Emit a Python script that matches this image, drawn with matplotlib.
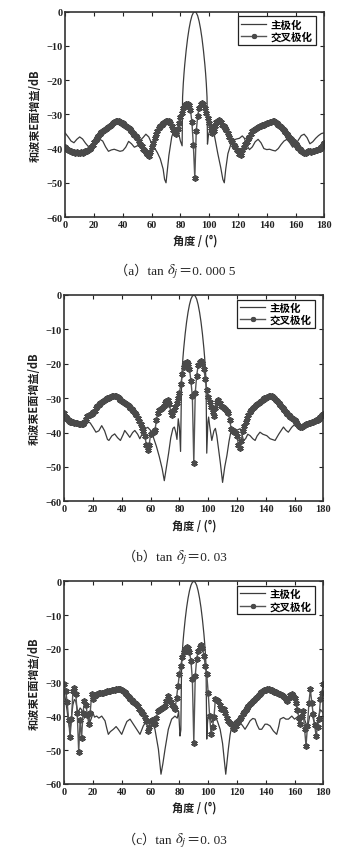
import matplotlib
matplotlib.use("Agg")
import matplotlib.pyplot as plt
import numpy as np
from matplotlib.font_manager import FontProperties
from matplotlib.offsetbox import TextArea, HPacker, AnchoredOffsetbox

plt.rcParams['font.family'] = ['Liberation Serif', 'Noto Sans CJK SC', 'DejaVu Sans']
plt.rcParams['mathtext.fontset'] = 'stix'
plt.rcParams['axes.unicode_minus'] = True

# ---------------- data ----------------
angles_cross = list(range(0, 181))  # 1 degree steps

cross_a = [
    -39.6, -40.2, -40.5, -40.7, -40.6, -40.9, -41.0, -41.2, -41.0, -41.3,
    -41.2, -41.0, -41.2, -40.9, -40.7, -40.8, -40.4, -40.2, -39.6, -39.0,
    -38.2, -37.5, -36.8, -36.3, -35.8, -35.3, -35.0, -34.6, -34.2, -33.9,
    -33.6, -33.4, -33.0, -32.6, -32.2, -32.0, -31.9, -32.0, -32.1, -32.4,
    -32.6, -33.0, -33.3, -33.7, -34.0, -34.4, -34.9, -35.4, -35.9, -36.4,
    -37.0, -37.8, -38.6, -39.3, -40.0, -40.5, -41.0, -41.6, -42.3, -41.0,
    -39.5, -38.3, -37.0, -35.8, -34.8, -34.0, -33.5, -33.0, -32.6, -32.3,
    -32.0, -31.8, -31.8, -32.5, -33.5, -34.5, -35.3, -35.6, -34.3, -32.5,
    -30.8, -29.5, -28.2, -27.5, -27.0, -26.9, -27.3, -28.8, -32.3, -39.0,
    -48.6,
    -35.0, -30.5, -28.0, -27.0, -26.7, -27.0, -28.0, -29.5, -31.0, -32.5,
    -34.0, -35.5, -35.0, -33.3, -32.3, -31.8, -31.7, -32.3, -33.0, -33.5,
    -34.0, -34.5, -35.5, -36.5, -37.5, -38.2, -39.0, -39.5, -40.3, -40.8,
    -41.5, -41.8, -40.5, -39.5, -38.8, -38.2, -37.3, -36.5, -35.8, -35.0,
    -34.6, -34.2, -33.9, -33.7, -33.5, -33.4, -33.2, -33.0, -32.8, -32.6,
    -32.4, -32.2, -32.1, -32.0, -31.9, -32.2, -32.6, -33.0, -33.4, -33.8,
    -34.2, -34.7, -35.2, -35.8, -36.3, -36.8, -37.3, -37.8, -38.3, -38.8,
    -39.3, -39.8, -40.2, -40.6, -41.0, -41.2, -41.3, -41.0, -40.7, -40.8,
    -41.0, -40.7, -40.6, -40.5, -40.3, -40.2, -40.0, -39.6, -39.0, -38.3,
]

cross_b = [
    -34.3, -35.5, -36.2, -36.5, -36.8, -37.0, -37.0, -37.2, -37.3, -37.3,
    -37.4, -37.5, -37.6, -37.5, -37.0, -36.0, -35.3, -35.0, -34.8, -34.5,
    -34.1, -33.6, -33.0, -32.4, -31.9, -31.5, -31.2, -30.8, -30.5, -30.2,
    -30.0, -29.9, -29.7, -29.5, -29.4, -29.4, -29.5, -29.8, -30.0, -30.4,
    -30.8, -31.0, -31.3, -31.7, -32.0, -32.4, -32.8, -33.2, -33.6, -34.3,
    -35.0, -35.8, -36.7, -37.6, -38.6, -39.5, -41.0, -43.5, -45.2, -43.5,
    -40.5, -40.0, -39.8, -39.4, -36.5, -34.2, -33.5, -33.3, -33.0, -32.2,
    -31.3, -30.7, -30.6, -31.8, -34.0, -35.0, -33.5, -32.5, -31.5, -30.0,
    -28.5, -26.0, -23.0, -21.0, -19.8, -19.5, -20.0, -21.5, -25.0, -29.5,
    -49.0,
    -28.5, -23.5, -20.5, -19.5, -19.3, -19.8, -21.5, -24.5, -27.5, -29.8,
    -31.2, -32.5, -34.0, -35.3, -33.0, -31.2, -30.6, -31.5, -32.3, -32.7,
    -33.0, -33.3, -33.6, -34.3, -36.5, -39.0, -39.5, -39.8, -40.0, -41.0,
    -43.5, -44.5, -42.5, -39.6, -38.0, -36.8, -35.7, -34.8, -34.0, -33.5,
    -33.0, -32.5, -32.1, -31.7, -31.3, -31.0, -30.7, -30.4, -30.1, -29.9,
    -29.7, -29.5, -29.4, -29.5, -29.6, -30.0, -30.4, -30.9, -31.5, -32.0,
    -32.5, -33.0, -33.5, -34.0, -34.5, -35.0, -35.4, -35.8, -36.1, -36.5,
    -37.0, -37.5, -38.0, -38.3, -38.4, -38.2, -37.8, -37.6, -37.5, -37.3,
    -37.1, -37.0, -36.8, -36.7, -36.5, -36.3, -36.0, -35.6, -35.0, -34.5,
]

cross_c = [
    -30.4, -32.5, -35.8, -41.0, -46.0, -40.8, -32.5, -31.5, -33.5, -39.0,
    -50.5, -41.0, -46.5, -39.0, -35.5, -36.5, -39.5, -42.3, -38.9, -33.5,
    -34.8, -33.9, -33.6, -33.4, -33.2, -33.1, -33.0, -33.0, -32.8, -32.8,
    -32.6, -32.5, -32.4, -32.3, -32.2, -32.1, -32.0, -31.9, -31.8, -31.9,
    -32.2, -32.5, -32.9, -33.4, -33.9, -34.3, -34.8, -35.2, -35.6, -36.0,
    -36.4, -37.0, -37.9, -38.5, -39.0, -39.4, -40.2, -41.3, -44.3, -43.0,
    -41.3, -41.2, -42.0, -42.3, -40.5, -38.4, -38.0, -37.9, -37.5, -37.2,
    -36.9, -35.5, -34.0, -34.8, -35.6, -36.5, -37.3, -37.9, -34.5, -31.0,
    -27.5, -25.0, -22.5, -21.0, -20.0, -19.5, -19.6, -21.0, -23.5, -29.0,
    -47.8,
    -28.0, -23.0, -20.5, -19.3, -19.0, -19.8, -22.0, -25.0, -27.5, -33.0,
    -39.9, -45.3, -43.0, -40.3, -34.9, -35.2, -35.4, -36.5, -37.9, -37.9,
    -37.9, -39.0, -40.5, -41.3, -42.0, -42.3, -43.0, -43.8, -42.8, -41.8,
    -41.3, -40.8, -40.2, -39.4, -38.8, -38.1, -37.5, -36.9, -36.4, -35.9,
    -35.4, -35.0, -34.5, -34.1, -33.7, -33.3, -32.9, -32.5, -32.3, -32.1,
    -32.0, -32.0, -32.1, -32.3, -32.5, -32.7, -32.9, -33.0, -33.3, -33.5,
    -33.7, -33.9, -34.3, -34.8, -35.4, -34.5, -33.8, -33.4, -33.9, -34.4,
    -36.0, -38.0, -40.5, -42.3, -40.0, -38.4, -43.8, -48.7, -42.8, -36.0,
    -32.0, -35.9, -39.4, -42.5, -45.8, -43.0, -40.8, -34.9, -33.0, -30.5,
]

# main lobe (shared by all three panels)
lobe_deg = [81.5, 82, 82.5, 83, 84, 85, 86, 87, 88, 89, 90,
            91, 92, 93, 94, 95, 96, 97, 97.5, 98, 98.5]
lobe_db = [-25, -21, -18, -15.5, -11.3, -7.8, -5.0, -2.8, -1.2, -0.3, 0,
           -0.3, -1.2, -2.8, -5.0, -7.8, -11.3, -15.5, -18, -21, -25]

# panel (a) co-polar sidelobes
main_a_left_deg = [0, 2, 4, 6, 8, 10, 12, 14, 16, 18, 20, 22, 24, 26, 28, 30, 32, 34,
                   36, 38, 40, 42, 44, 46, 48, 50, 52, 54, 56, 58, 60, 62, 64, 66, 68,
                   69, 70, 71, 72, 74, 76, 77, 78, 79, 80, 81.2]
main_a_left_db = [-35.5, -36.6, -37.8, -38.3, -37.3, -36.6, -37.2, -38.4, -39.4, -39.3,
                  -38.4, -37.7, -37.3, -37.8, -39.5, -40.8, -40.4, -40.2, -40.5, -40.8,
                  -40.6, -39.6, -37.9, -38.6, -39.6, -39.2, -37.6, -36.8, -35.8, -36.6,
                  -38.5, -39.8, -41.2, -43.0, -46.0, -49.0, -50.0, -46.0, -42.0, -36.5,
                  -34.2, -33.8, -34.5, -36.0, -37.8, -39.2]
main_a_right_deg = [98.8, 99.5, 100.5, 102, 103, 104, 106, 108, 109.5, 110.5, 111.5, 113,
                    115, 117, 119, 121, 123, 124.5, 126, 128, 130, 132, 134, 136, 138,
                    140, 142, 144, 146, 148, 150, 152, 154, 156, 158, 160, 162, 164, 166,
                    168, 170, 172, 174, 176, 178, 180]
main_a_right_db = [-38.7, -36.0, -34.5, -34.0, -35.0, -37.0, -41.5, -45.5, -49.0, -50.0,
                   -46.0, -41.5, -38.8, -37.5, -37.2, -37.0, -36.3, -37.0, -39.0, -40.3,
                   -39.5, -38.0, -37.3, -38.3, -40.0, -40.3, -40.2, -40.5, -40.7, -40.0,
                   -38.8, -37.8, -37.3, -38.3, -39.6, -39.0, -37.5, -36.2, -35.8, -36.8,
                   -38.6, -38.0, -37.0, -36.2, -35.6, -35.4]

# panel (b) co-polar sidelobes
main_b_left_deg = [0, 2, 4, 6, 8, 10, 12, 13, 15, 17, 18, 20, 22, 24, 26, 28, 30, 31, 33,
                   35, 37, 39, 41, 42, 44, 45.5, 47.5, 49, 51, 52.5, 54, 56, 58, 60, 62,
                   64, 66, 68, 69.5, 71, 72.5, 74, 75.5, 76.5, 77.5, 78.3, 79.2, 80, 80.8]
main_b_left_db = [-36.0, -37.2, -37.6, -37.5, -37.8, -37.8, -38.0, -38.4, -37.5, -37.0,
                  -37.2, -38.5, -39.9, -39.5, -38.0, -39.5, -42.0, -42.3, -41.0, -40.4,
                  -41.5, -42.3, -40.5, -39.4, -40.5, -41.4, -40.0, -39.4, -40.5, -41.8,
                  -40.5, -38.9, -38.5, -39.4, -41.5, -44.0, -47.0, -50.5, -54.0, -50.0,
                  -46.0, -41.5, -38.8, -38.4, -40.0, -42.0, -36.0, -38.5, -45.5]
main_b_right_deg = [99, 99.8, 100.3, 101, 102.5, 104, 105, 106, 107.2, 108.5, 110, 111.5,
                    113, 114.5, 115.7, 117, 118.7, 120, 122.2, 123.5, 124.5, 126, 127.5,
                    129.1, 131, 132.6, 134, 136, 138, 140.7, 143, 146.5, 149, 152.3, 154,
                    155.7, 158, 160.4, 162, 163.9, 166, 168, 170, 172, 175, 178, 180]
main_b_right_db = [-46.0, -37.0, -35.5, -38.0, -42.3, -39.5, -38.8, -41.0, -44.8, -49.0,
                   -54.5, -50.0, -46.7, -42.5, -39.9, -38.8, -38.9, -39.3, -38.9, -40.5,
                   -42.3, -41.8, -40.5, -40.9, -41.8, -42.3, -41.0, -39.9, -40.5, -40.9,
                   -41.8, -42.3, -40.5, -38.4, -39.3, -39.9, -38.5, -37.5, -38.0, -38.4,
                   -38.3, -37.6, -37.3, -37.0, -36.6, -35.7, -34.6]

# panel (c) co-polar sidelobes
main_c_left_deg = [0, 1, 2, 3, 4, 5, 6, 7, 8, 9, 10, 11, 12, 13, 14, 15, 16, 17, 18, 19,
                   20, 21, 22.5, 24, 26, 28.3, 29.5, 30.6, 32, 34.1, 36, 37.5, 39.9, 42.2,
                   43.5, 45.7, 48, 50.3, 52.6, 54.9, 57.2, 60.7, 63, 65.4, 67.2, 68.5, 70,
                   72.3, 74.6, 76.9, 78.5, 79.5, 80.4, 81]
main_c_left_db = [-33.0, -35.5, -38.5, -42.0, -44.0, -40.0, -36.5, -35.0, -35.5, -38.0,
                  -38.5, -37.5, -38.0, -39.5, -40.5, -39.4, -39.0, -40.5, -41.5, -40.3,
                  -39.0, -40.2, -39.9, -40.5, -39.9, -41.3, -43.5, -45.3, -44.5, -43.8,
                  -43.0, -43.8, -45.3, -42.8, -41.5, -40.8, -42.3, -43.8, -45.3, -42.8,
                  -41.3, -41.3, -43.8, -49.7, -57.1, -54.0, -49.7, -43.8, -40.8, -39.9,
                  -40.5, -38.5, -45.8, -44.0]
main_c_right_deg = [99, 99.5, 100.1, 101.2, 102.5, 104, 104.8, 106.5, 108.3, 110, 111,
                    112.2, 113.2, 114, 115.2, 116.4, 118.7, 120.5, 122.2, 124, 125.6,
                    127.5, 129.1, 131, 132.6, 134, 135.5, 137.2, 139.5, 141, 143, 145.3,
                    147.6, 149, 150, 152.3, 154, 155.8, 158.1, 160, 161.5, 163, 164.5,
                    166, 167.5, 169, 170.5, 172, 173.5, 175, 176.5, 178, 180]
main_c_right_db = [-46.7, -42.0, -39.4, -40.5, -41.8, -40.3, -39.9, -41.5, -43.8, -48.0,
                   -52.0, -57.1, -53.0, -49.7, -45.5, -42.8, -41.3, -41.5, -41.8, -42.8,
                   -43.8, -42.5, -41.3, -40.6, -40.8, -42.5, -43.8, -43.8, -42.3, -42.3,
                   -42.8, -44.3, -45.3, -43.0, -40.8, -40.3, -40.8, -40.8, -39.9, -40.8,
                   -40.3, -41.5, -40.0, -39.5, -41.5, -43.5, -40.0, -39.0, -41.5, -43.5,
                   -40.5, -38.0, -39.0]

x_ticks = [0, 20, 40, 60, 80, 100, 120, 140, 160, 180]
y_ticks = [0, -10, -20, -30, -40, -50, -60]
legend_labels = ['主极化', '交叉极化']
x_label = '角度 / (°)'
y_label = '和波束E面增益/dB'
caption_prefix = ['（a）tan ', '（b）tan ', '（c）tan ']
caption_symbol = '$\\delta_j$'
caption_value = ['＝0. 000 5', '＝0. 03', '＝0. 03']

panels = [
    (cross_a, main_a_left_deg, main_a_left_db, main_a_right_deg, main_a_right_db),
    (cross_b, main_b_left_deg, main_b_left_db, main_b_right_deg, main_b_right_db),
    (cross_c, main_c_left_deg, main_c_left_db, main_c_right_deg, main_c_right_db),
]

# ---------------- layout ----------------
W, H = 350, 854
fig = plt.figure(figsize=(W / 100, H / 100), dpi=100)
fig.patch.set_facecolor('white')

# axes boxes in pixels: (left, top, right, bottom)
boxes = [(65.3, 12.7, 324.3, 218.0), (64.3, 296.0, 323.3, 502.3), (64.3, 582.3, 323.3, 785.0)]
caption_y = [272, 558, 841]

cjk_fam = ['Noto Sans CJK SC', 'DejaVu Sans']
cjk = FontProperties(family=cjk_fam, size=8, weight='bold')
cjk_leg = FontProperties(family=cjk_fam, size=7.6, weight='bold')
tickfont = FontProperties(family=['Liberation Serif'], size=7.5, weight='bold')
cap_fam = ['Liberation Serif', 'Noto Sans CJK SC', 'DejaVu Sans']

line_col = '#3c3c3c'
cross_col = '#555555'

for i, (cross, ld, lv, rd, rv) in enumerate(panels):
    l, t, r, b = boxes[i]
    ax = fig.add_axes([l / W, 1 - b / H, (r - l) / W, (b - t) / H])
    main_deg = ld + lobe_deg + rd
    main_db = lv + lobe_db + rv
    h1, = ax.plot(main_deg, main_db, color=line_col, lw=0.9)
    h2, = ax.plot(angles_cross, cross, color=cross_col, lw=1.0,
                  marker=(6, 2, 0), ms=4.6, mec='#4a4a4a', mew=1.25)
    ax.set_xlim(0, 180)
    ax.set_ylim(-60, 0)
    ax.set_xticks(x_ticks)
    ax.set_yticks(y_ticks)
    ax.set_xticklabels([str(v) for v in x_ticks], fontproperties=tickfont)
    ax.set_yticklabels([('\u2212' + str(-v)) if v < 0 else str(v) for v in y_ticks],
                       fontproperties=tickfont)
    ax.tick_params(direction='in', top=True, right=True, length=3, width=0.8,
                   colors='#222222', pad=2)
    for s in ax.spines.values():
        s.set_color('#333333')
        s.set_linewidth(1.2)
    ax.set_xlabel(x_label, fontproperties=cjk, color='#222222')
    ax.set_ylabel(y_label, fontproperties=cjk, color='#222222')
    ax.xaxis.set_label_coords(0.5, -0.082)
    ax.yaxis.set_label_coords(-0.09, 0.5)
    leg = ax.legend([h1, h2], legend_labels, prop=cjk_leg, loc='upper right',
                    bbox_to_anchor=(0.967, 0.978), fancybox=False, framealpha=1,
                    edgecolor='#222222', borderpad=0.3, handlelength=2.4,
                    labelspacing=0.15, handletextpad=0.4, borderaxespad=0,
                    markerscale=0.8)
    leg.get_frame().set_linewidth(0.9)

    parts = [
        TextArea(caption_prefix[i], textprops=dict(family=cap_fam, size=9.5, color='#222222')),
        TextArea(caption_symbol, textprops=dict(size=10.5, color='#222222')),
        TextArea(caption_value[i], textprops=dict(family=cap_fam, size=9.5, color='#222222')),
    ]
    pack = HPacker(children=parts, align='baseline', pad=0, sep=0)
    anch = AnchoredOffsetbox(loc='center', child=pack, frameon=False, pad=0, borderpad=0,
                             bbox_to_anchor=(0.5, 1 - caption_y[i] / H),
                             bbox_transform=fig.transFigure)
    fig.add_artist(anch)

fig.savefig('out.png', dpi=100, facecolor='white')
